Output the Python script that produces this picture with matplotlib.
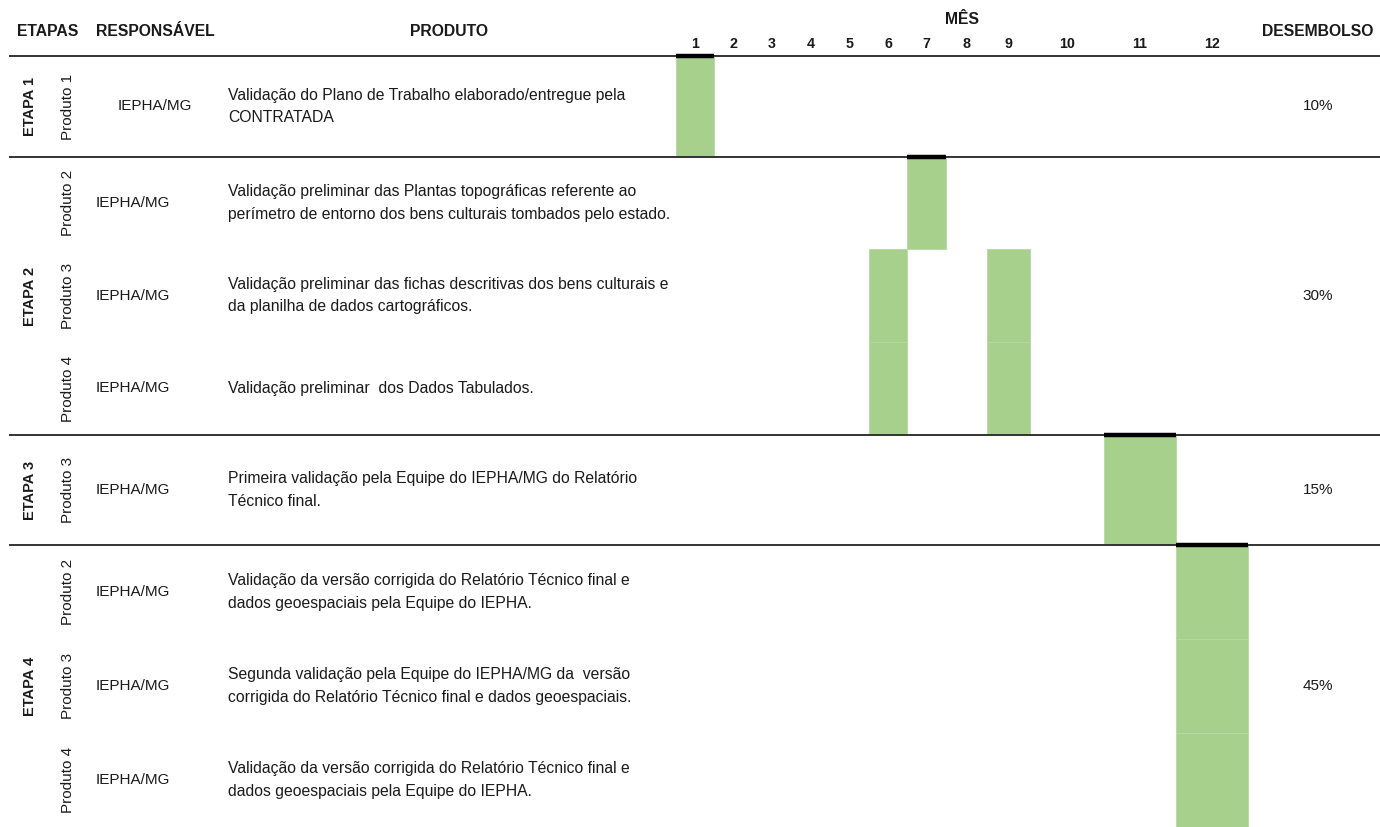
import matplotlib.pyplot as plt

plt.rcParams['font.family'] = ['Liberation Sans', 'DejaVu Sans']

# Dados do cronograma
meses = [str(m) for m in range(1, 13)]
etapas = ["ETAPA 1", "ETAPA 2", "ETAPA 3", "ETAPA 4"]
desembolso = ["10%", "30%", "15%", "45%"]
produtos = ["Produto 1", "Produto 2", "Produto 3", "Produto 4", "Produto 3",
            "Produto 2", "Produto 3", "Produto 4"]
etapa_da_linha = [0, 1, 1, 1, 2, 3, 3, 3]
responsavel = ["IEPHA/MG"] * 8
descricao = [
    "Validação do Plano de Trabalho elaborado/entregue pela\nCONTRATADA",
    "Validação preliminar das Plantas topográficas referente ao\nperímetro de entorno dos bens culturais tombados pelo estado.",
    "Validação preliminar das fichas descritivas dos bens culturais e\nda planilha de dados cartográficos.",
    "Validação preliminar  dos Dados Tabulados.",
    "Primeira validação pela Equipe do IEPHA/MG do Relatório\nTécnico final.",
    "Validação da versão corrigida do Relatório Técnico final e\ndados geoespaciais pela Equipe do IEPHA.",
    "Segunda validação pela Equipe do IEPHA/MG da  versão\ncorrigida do Relatório Técnico final e dados geoespaciais.",
    "Validação da versão corrigida do Relatório Técnico final e\ndados geoespaciais pela Equipe do IEPHA.",
]
meses_ativos = [[1], [7], [6, 9], [6, 9], [11], [12], [12], [12]]

# Layout (pixels)
col_edges = [676, 714, 752, 791, 830, 869, 907, 946, 987, 1030, 1104, 1176, 1248]
row_edges = [56, 157, 249, 342, 435, 545, 639, 733, 827]
etapa_edges = [56, 157, 435, 545, 827]
verde = "#a8d08d"
txt = "#1a1a1a"
fs = 11

fig = plt.figure(figsize=(13.8, 8.27), dpi=100)
ax = fig.add_axes([0, 0, 1, 1])
ax.set_xlim(0, 1380)
ax.set_ylim(827, 0)
ax.axis("off")

# barras do cronograma
for i, ms in enumerate(meses_ativos):
    top, bot = row_edges[i], row_edges[i + 1]
    for m in ms:
        x0, x1 = col_edges[m - 1], col_edges[m]
        ax.bar(x0, bot - top, width=x1 - x0, bottom=top, align="edge",
               color=verde, edgecolor="#b6d9a0", linewidth=0.6, zorder=1)

# linhas horizontais das etapas
for y in etapa_edges[:-1]:
    ax.plot([10, 1380], [y, y], color="#333333", lw=1.4, zorder=2)

# marcas pretas no início de cada etapa
for e, y in enumerate(etapa_edges[:-1]):
    first_row = etapa_da_linha.index(e)
    m = min(meses_ativos[first_row])
    ax.plot([col_edges[m - 1], col_edges[m]], [y, y], color="black", lw=3.2,
            solid_capstyle="butt", zorder=3)

# cabeçalho
hdr = dict(fontsize=11.3, fontweight="bold", color=txt, va="center", ha="center")
ax.text(48, 31, "ETAPAS", **hdr)
ax.text(155, 31, "RESPONSÁVEL", **hdr)
ax.text(449, 31, "PRODUTO", **hdr)
ax.text(962, 19, "MÊS", **hdr)
ax.text(1318, 31, "DESEMBOLSO", **hdr)
for m, lab in enumerate(meses):
    ax.text((col_edges[m] + col_edges[m + 1]) / 2, 44, lab, fontsize=10.3,
            fontweight="bold", color=txt, va="center", ha="center")

# etapas e desembolso
for e, nome in enumerate(etapas):
    yc = (etapa_edges[e] + etapa_edges[e + 1]) / 2
    ax.text(30, yc, nome, rotation=90, fontsize=10.5, fontweight="bold",
            color=txt, ha="center", va="center")
    ax.text(1318, yc, desembolso[e], fontsize=fs, color=txt,
            ha="center", va="center")

# linhas de produto
for i in range(len(produtos)):
    yc = (row_edges[i] + row_edges[i + 1]) / 2
    ax.text(68, yc, produtos[i], rotation=90, fontsize=fs, color=txt,
            ha="center", va="center")
    if i == 0:
        ax.text(155, yc, responsavel[i], fontsize=fs, color=txt,
                ha="center", va="center")
    else:
        ax.text(96, yc, responsavel[i], fontsize=fs, color=txt,
                ha="left", va="center")
    ax.text(228, yc, descricao[i], fontsize=11.3, color=txt,
            ha="left", va="center", linespacing=1.62)

fig.savefig("out.png", dpi=100)
